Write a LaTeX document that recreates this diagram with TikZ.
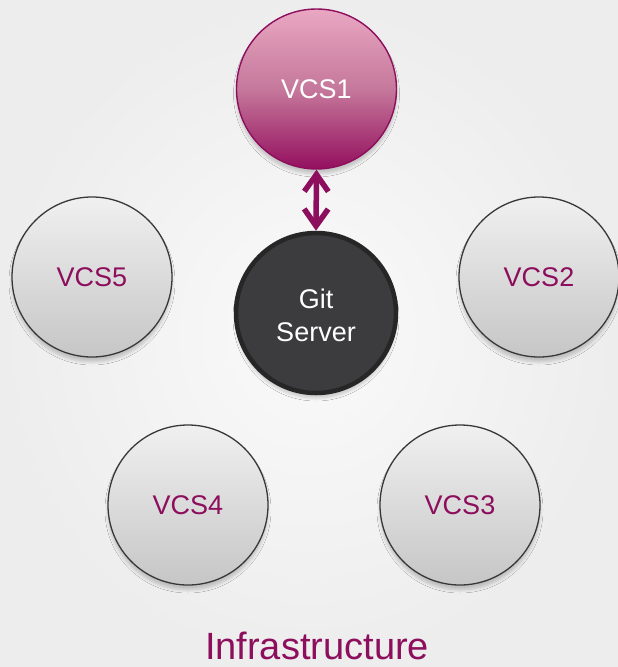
\documentclass[tikz,border=0pt]{standalone}
\usepackage{fontspec}
\setmainfont{Liberation Sans}
\usetikzlibrary{shapes.geometric,arrows.meta,shadows.blur}

\definecolor{plum}{HTML}{8C0E5C}
\definecolor{plumlight}{HTML}{E9A7C2}
\definecolor{plummid}{HTML}{C5789B}
\definecolor{plumdark}{HTML}{940F5E}
\definecolor{servfill}{HTML}{3C3C3E}
\definecolor{servline}{HTML}{262627}
\definecolor{nodetop}{HTML}{F0F0F0}
\definecolor{nodebot}{HTML}{C6C6C6}
\definecolor{nodeline}{HTML}{383838}
\definecolor{bginner}{HTML}{FAFAFA}
\definecolor{bgouter}{HTML}{EDEDED}

\tikzset{
  softshadow/.style={blur shadow={shadow xshift=0pt, shadow yshift=-5pt,
      shadow blur steps=6, shadow blur radius=3pt, shadow opacity=20}},
  vcs/.style={circle, minimum size=160pt, inner sep=0pt, line width=1.3pt,
      draw=nodeline, top color=nodetop, bottom color=nodebot, softshadow},
  vcsactive/.style={circle, minimum size=160pt, inner sep=0pt, line width=1.4pt,
      draw=plum, top color=plumlight, bottom color=plumdark, middle color=plummid,
      softshadow},
  server/.style={circle, minimum size=160pt, inner sep=0pt, line width=4.5pt,
      draw=servline, fill=servfill, softshadow},
  vcslabel/.style={text=plum, font=\fontsize{27}{33}\selectfont},
  whitelabel/.style={text=white, font=\fontsize{27}{33}\selectfont, align=center},
  link/.style={draw=plum, line width=5.5pt,
      {Straight Barb[length=17pt, width=24pt]}-{Straight Barb[length=17pt, width=24pt]}},
  caption/.style={text=plum, font=\fontsize{38}{44}\selectfont, anchor=base}
}

\begin{document}
\begin{tikzpicture}[x=1pt, y=-1pt]
  % backdrop
  \shade[inner color=bginner, outer color=bgouter] (0,0) rectangle (618,667);
  \useasboundingbox (0,0) rectangle (618,667);

  % repositories around the server
  \node[vcsactive] (vcs1) at (316.5,89) {};
  \node[whitelabel] (vcs1txt) at (vcs1) {VCS1};
  \node[vcs] (vcs2) at (539,277) {};
  \node[vcslabel] (vcs2txt) at (vcs2) {VCS2};
  \node[vcs] (vcs3) at (460,505) {};
  \node[vcslabel] (vcs3txt) at (vcs3) {VCS3};
  \node[vcs] (vcs4) at (188,505) {};
  \node[vcslabel] (vcs4txt) at (vcs4) {VCS4};
  \node[vcs] (vcs5) at (92,277) {};
  \node[vcslabel] (vcs5txt) at (vcs5) {VCS5};

  % central server
  \node[server] (git) at (316,313) {};
  \node[whitelabel] (gittxt) at (316,315) {Git\\Server};

  % synchronisation link
  \draw[link] (vcs1.south) -- (git.north);

  % caption
  \node[caption] (infra) at (317,659) {Infrastructure};
\end{tikzpicture}
\end{document}
